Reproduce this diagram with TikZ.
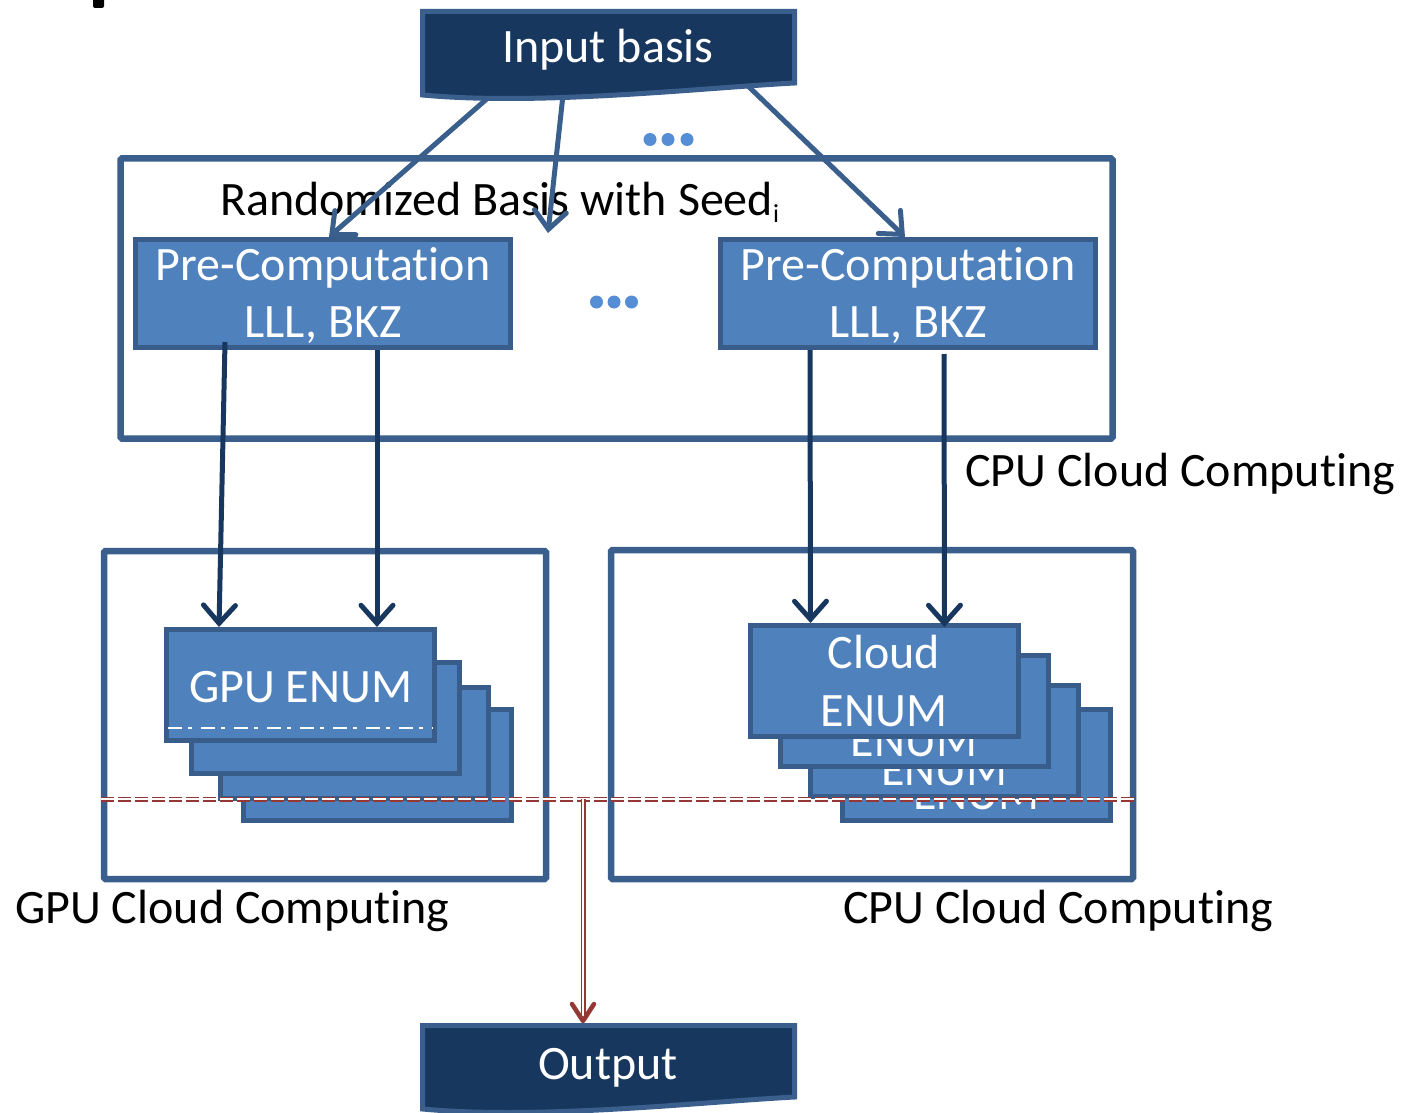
\documentclass[tikz,border=0pt]{standalone}
\usepackage{fontspec}
\setmainfont{Carlito}[Ligatures={NoCommon,NoContextual}, Contextuals=NoAlternate]
\usetikzlibrary{arrows.meta,calc}

\definecolor{edgeblue}{HTML}{3A5F8C}
\definecolor{boxedge}{HTML}{385D8A}
\definecolor{boxfill}{HTML}{4F81BD}
\definecolor{navy}{HTML}{17375E}
\definecolor{dotblue}{HTML}{558ED5}
\definecolor{redc}{HTML}{953735}

\newcommand\dgfont{\fontsize{48}{57}\selectfont}

\tikzset{
  outerbox/.style={draw=edgeblue, line width=6.5pt, rounded corners=1.5pt, inner sep=0pt},
  procbox/.style={draw=boxedge, fill=boxfill, line width=5pt, inner sep=0pt,
                  minimum width=268pt, minimum height=111pt},
  prebox/.style={procbox, minimum width=375pt, minimum height=108pt},
  wtxt/.style={text=white, font=\dgfont, inner sep=0pt, anchor=base},
  ktxt/.style={text=black, font=\dgfont, inner sep=0pt, anchor=base west},
  flowarrow/.style={draw=edgeblue, line width=5pt, line cap=round,
                    -{Straight Barb[length=18pt,width=32pt,line cap=round]}},
  downarrow/.style={draw=navy, line width=5pt,
                    -{Straight Barb[length=18pt,width=32pt,line cap=round]}},
  docshape/.style={draw=edgeblue, fill=navy, line width=5pt},
}

\begin{document}
\begin{tikzpicture}[x=1pt,y=-1pt]
\useasboundingbox (0,0) rectangle (1403,1113);

% fragment of a heading cut off at the top edge
\fill[black, rounded corners=2pt] (93,-4) rectangle (104,8);

% outer computing regions
\node[outerbox, minimum width=992pt, minimum height=280pt] (cpuA) at (616.5,298.5) {};
\node[outerbox, minimum width=442pt, minimum height=328pt] (gpuR) at (325,715) {};
\node[outerbox, minimum width=522pt, minimum height=329pt] (cpuB) at (872,714.5) {};

\node[ktxt] (rnd) at (220,215) {Randomized Basis with Seed\raisebox{-7pt}{\fontsize{26}{26}\selectfont i}};
\node[ktxt] (cpuAlab) at (965,486) {CPU Cloud Computing};
\node[ktxt] (gpuRlab) at (15,923) {GPU Cloud Computing};
\node[ktxt] (cpuBlab) at (843,923) {CPU Cloud Computing};

% ellipsis marks
\foreach \x in {650,668,687} \fill[dotblue] (\x,139.5) circle (6.5pt);
\foreach \x in {596.5,614,631.5} \fill[dotblue] (\x,302) circle (6.5pt);

% pre-computation stages
\node[prebox] (pcL) at (323,293.5) {};
\node[wtxt] at ($(pcL.center)+(0,-13.5)$) {Pre-Computation};
\node[wtxt] at ($(pcL.center)+(0,43.5)$) {LLL, BKZ};
\node[prebox] (pcR) at (908,293.5) {};
\node[wtxt] at ($(pcR.center)+(0,-13.5)$) {Pre-Computation};
\node[wtxt] at ($(pcR.center)+(0,43.5)$) {LLL, BKZ};

% GPU enumeration stack (back to front)
\node[procbox] (gpu4) at (377,764.5) {};
\node[procbox] (gpu3) at (354.5,742.5) {};
\node[procbox] (gpu2) at (325,717.5) {};
\node[procbox] (gpu1) at (300.5,685) {};
\node[wtxt] at ($(gpu1.center)+(0,17)$) {GPU ENUM};
\draw[white, line width=1.2pt, dash pattern=on 14pt off 6pt on 4pt off 9pt]
  ($(gpu1.west)+(4,43)$) -- ($(gpu1.east)+(-4,43)$);

% cloud enumeration stack (back to front)
\foreach \n/\cx/\cy in {cld4/976.5/764.5, cld3/944.5/740.5, cld2/914/711, cld1/884/681}{
  \node[procbox] (\n) at (\cx,\cy) {};
  \node[wtxt] at ($(\n.center)+(0,-13)$) {Cloud};
  \node[wtxt] at ($(\n.center)+(0,45)$) {ENUM};
}

% pre-computation to enumeration
\draw[downarrow] ($(pcL.south west)+(92,-8)$) -- ($(gpu1.north west)+(55,0)$);
\draw[downarrow] ($(pcL.south west)+(244,0)$) -- ($(gpu1.north west)+(213,0)$);
\draw[downarrow] ($(pcR.south west)+(92,0)$) -- ($(cld1.north west)+(63,0)$);
\draw[downarrow] ($(pcR.south west)+(226,4)$) -- ($(cld1.north west)+(197,4)$);

% input basis fanning out
\coordinate (inL) at (489,97);
\coordinate (inM) at (563,95);
\coordinate (inR) at (748,86);
\coordinate (midend) at (548,233);
\draw[flowarrow] (inL) -- ($(pcL.north)+(6,0)$);
\draw[flowarrow] (inM) -- (midend);
\draw[flowarrow] (inR) -- ($(pcR.north)+(-3,0)$);

\path[docshape] (422.5,11.5) -- (794.5,11.5) -- (794.5,83)
  .. controls (700,88) and (540,106) .. (422.5,95) -- cycle;
\node[wtxt] (inb) at (608,63) {Input basis};

% collected results to output
\coordinate (rl) at (101,799);
\coordinate (rr) at (1134,799);
\coordinate (rj) at (583,799);
\coordinate (outtop) at (583,1021);
\draw[redc, line width=1.5pt, double=white, double distance=2pt,
      dash pattern=on 13pt off 4pt] (rl) -- (rr);
\draw[redc, line width=1.5pt, double=white, double distance=2pt] (rj) -- ($(outtop)+(0,-6)$);
\draw[redc, line width=4.5pt, line cap=round, line join=round]
  ($(outtop)+(-11,-17)$) -- (outtop) -- ($(outtop)+(11,-17)$);

\path[docshape] (422.5,1025.5) -- (794.5,1025.5) -- (794.5,1097)
  .. controls (700,1102) and (540,1120) .. (422.5,1109) -- cycle;
\node[wtxt] (outp) at (608,1079) {Output};
\end{tikzpicture}
\end{document}
